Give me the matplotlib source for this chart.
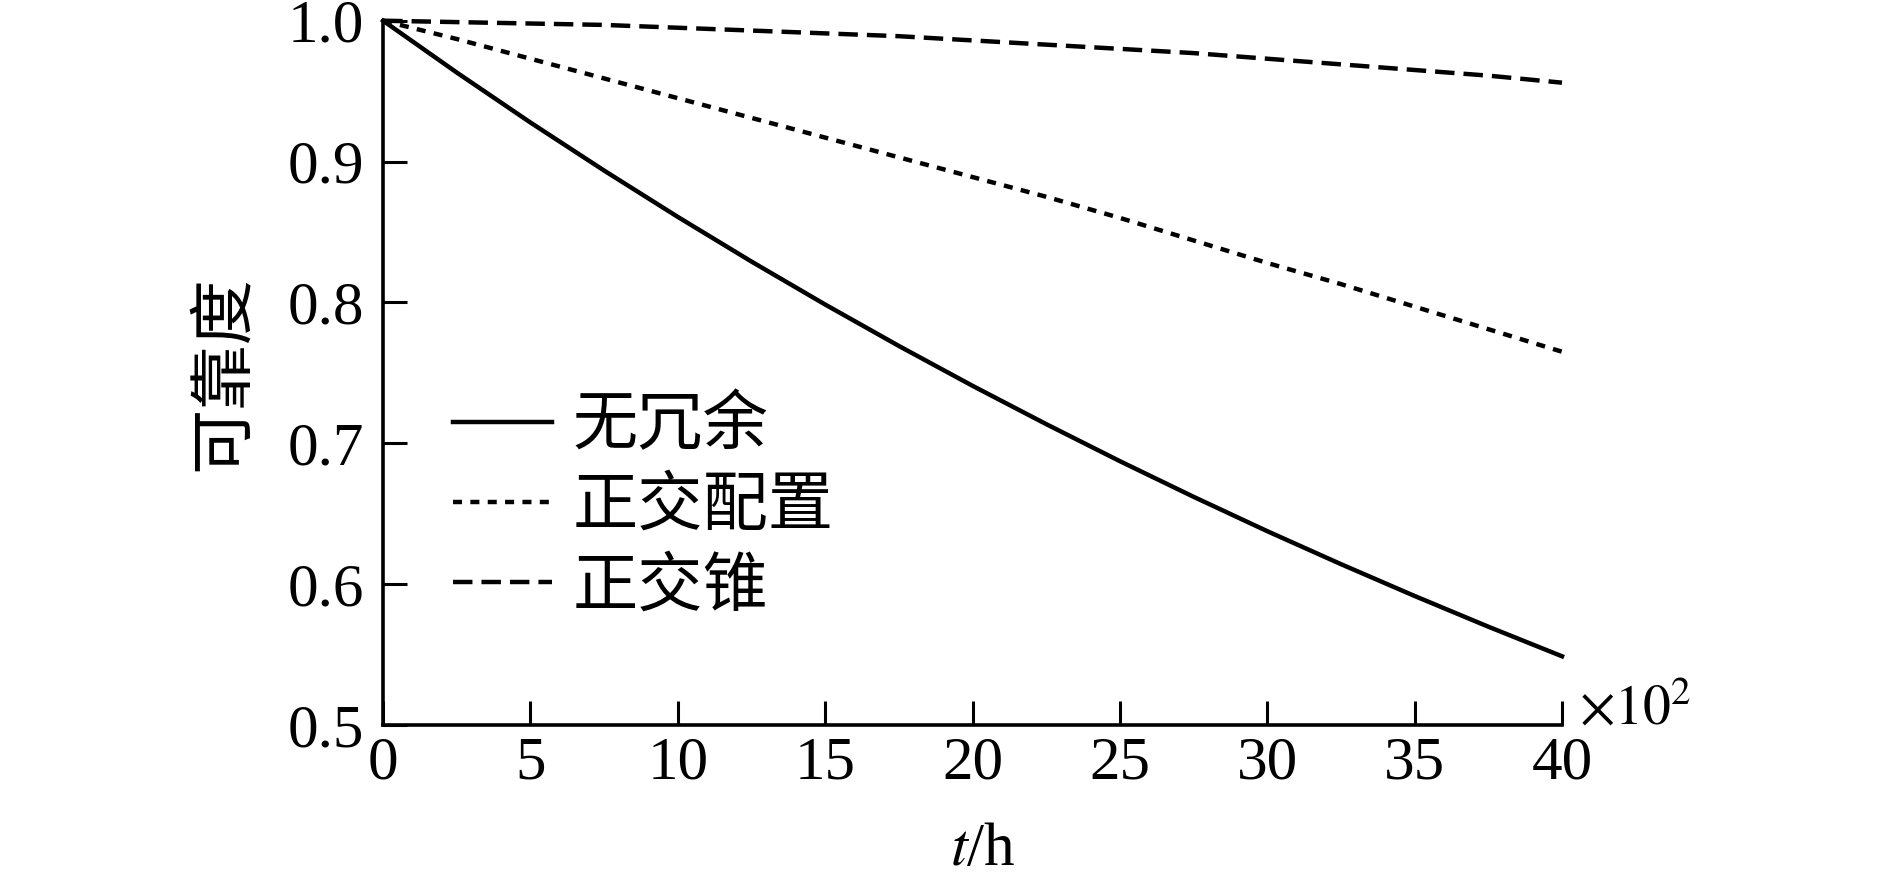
import numpy as np
import matplotlib
matplotlib.use("Agg")
import matplotlib.pyplot as plt

plt.rcParams['font.family'] = ['Liberation Serif', 'Noto Sans CJK SC']
plt.rcParams['mathtext.fontset'] = 'stix'
plt.rcParams['lines.scale_dashes'] = False

# time axis (x10^2 h)
t = [0, 2.5, 5, 7.5, 10, 12.5, 15, 17.5, 20, 22.5, 25, 27.5, 30, 32.5, 35, 37.5, 40]

# reliability
r_none = [1.0000, 0.9632, 0.9277, 0.8936, 0.8607, 0.8290, 0.7985, 0.7691, 0.7408,
          0.7136, 0.6873, 0.6620, 0.6376, 0.6142, 0.5916, 0.5698, 0.5488]
r_ortho = [1.000, 0.987, 0.973, 0.959, 0.945, 0.931, 0.917, 0.903, 0.889,
           0.875, 0.860, 0.844, 0.828, 0.813, 0.797, 0.781, 0.765]
r_cone = [1.000, 0.999, 0.998, 0.997, 0.995, 0.993, 0.991, 0.989, 0.986,
          0.983, 0.980, 0.977, 0.973, 0.969, 0.965, 0.961, 0.956]

labels = ['无冗余', '正交配置', '正交锥']
x_ticks = [0, 5, 10, 15, 20, 25, 30, 35, 40]
y_ticks = [0.5, 0.6, 0.7, 0.8, 0.9, 1.0]

fs = 44      # numbers
fs_cn = 47   # chinese text
lw = 3.2

fig = plt.figure(figsize=(18.89, 8.77), dpi=100)
ax = fig.add_axes([0.2028, 0.1733, 0.6241, 0.8031])

ax.plot(t, r_none, color='black', lw=lw, linestyle='-', label=labels[0], clip_on=False)
ax.plot(t, r_ortho, color='black', lw=lw, linestyle=(0, (6.5, 6.0)), label=labels[1], clip_on=False)
ax.plot(t, r_cone, color='black', lw=lw, linestyle=(0, (14, 6.5)), label=labels[2], clip_on=False)

ax.set_xlim(0, 40)
ax.set_ylim(0.5, 1.0)
ax.set_xticks(x_ticks)
ax.set_yticks(y_ticks)
ax.set_yticklabels(['%.1f' % v for v in y_ticks])

for side in ['top', 'right']:
    ax.spines[side].set_visible(False)
for side in ['left', 'bottom']:
    ax.spines[side].set_linewidth(2.6)

ax.tick_params(axis='both', direction='in', length=17, width=2.2, labelsize=fs)
ax.tick_params(axis='x', pad=8)
ax.tick_params(axis='y', pad=14)

ax.set_xlabel(r'$t$/h', fontsize=fs)
ax.xaxis.set_label_coords(0.509, -0.138)
ax.set_ylabel('可靠度', fontsize=fs_cn)
ax.yaxis.set_label_coords(-0.108, 0.5)

ax.text(1.014, 0.0, r'$\times10^{2}$', transform=ax.transAxes, fontsize=40,
        va='baseline', ha='left')

ax.legend(loc='center left', bbox_to_anchor=(0.0594, 0.308), frameon=False,
          fontsize=fs_cn, handlelength=1.51, handletextpad=0.32, labelspacing=0.3,
          borderpad=0, borderaxespad=0)

fig.savefig('out.png', dpi=100)
